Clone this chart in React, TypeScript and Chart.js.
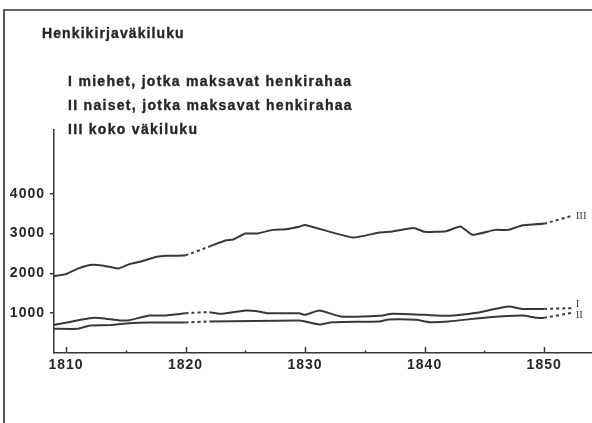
import React, { useEffect, useRef } from "react";
import { Chart, registerables } from "chart.js";

Chart.register(...registerables);

const TITLE = "Henkikirjaväkiluku";
const LEGEND_LINES = [
  "I miehet, jotka maksavat henkirahaa",
  "II naiset, jotka maksavat henkirahaa",
  "III koko väkiluku",
];
const SERIES_TAGS = ["I", "II", "III"];

const X_TICKS = [1810, 1820, 1830, 1840, 1850];
const X_MINOR_TICKS = [1815, 1825, 1835, 1845];
const Y_TICKS = [1000, 2000, 3000, 4000];
const DASH_FROM = [1820, 1850];

// Series I: miehet
const YEARS_I = [1809, 1812, 1813, 1814.5, 1815.3, 1817, 1818.4, 1820, 1822, 1823, 1825, 1826, 1826.8, 1829.5, 1830, 1831.2, 1833, 1836.2, 1837.3, 1840, 1842, 1844.3, 1847, 1848.2, 1850, 1852.3];
const VALUES_I = [708, 875, 875, 817, 825, 942, 942, 1000, 1025, 983, 1067, 1050, 1000, 1000, 958, 1067, 917, 933, 983, 958, 933, 1008, 1167, 1108, 1108, 1125];

// Series II: naiset
const YEARS_II = [1809, 1811, 1812, 1813.7, 1815.3, 1817, 1820, 1822, 1829.5, 1830, 1831.2, 1832.3, 1836.2, 1837, 1839.3, 1840.4, 1842, 1845.4, 1848.2, 1849.4, 1850, 1852.3];
const VALUES_II = [608, 608, 692, 700, 750, 767, 767, 792, 817, 792, 717, 775, 792, 842, 833, 775, 792, 900, 942, 883, 883, 1008];

// Series III: koko väkiluku
const YEARS_III = [1809, 1810, 1811, 1812, 1813, 1814.4, 1815.3, 1816.2, 1817.6, 1818.4, 1820, 1822, 1823.4, 1824, 1825, 1826, 1827.3, 1828.4, 1829.5, 1830, 1834, 1836.2, 1837.3, 1839.1, 1840, 1841.8, 1843, 1844, 1845.9, 1847, 1848.2, 1850, 1852.3];
const VALUES_III = [1930, 1980, 2120, 2210, 2200, 2125, 2232, 2290, 2415, 2440, 2457, 2675, 2832, 2850, 3000, 3000, 3092, 3108, 3170, 3216, 2900, 3025, 3050, 3142, 3042, 3060, 3175, 2967, 3092, 3092, 3208, 3250, 3442];

const INK = "#262626";
const LINE = "#383838";
const FONT = "'Liberation Sans', Arial, sans-serif";

const toPoints = (xs: number[], ys: number[]) => xs.map((x, i) => ({ x, y: ys[i] }));

const tagOffsets = [-4, 2, 0];

const decorPlugin = {
  id: "decor",
  beforeDraw(chart: any) {
    (chart.ctx as any).letterSpacing = "1px";
  },
  afterDraw(chart: any) {
    const ctx = chart.ctx;
    const xs = chart.scales.x;
    const axisY = chart.chartArea.bottom;
    ctx.save();
    ctx.strokeStyle = LINE;
    ctx.lineWidth = 1.5;
    X_TICKS.forEach((v) => {
      const px = Math.round(xs.getPixelForValue(v)) + 0.5;
      ctx.beginPath();
      ctx.moveTo(px, axisY);
      ctx.lineTo(px, axisY - 6);
      ctx.stroke();
    });
    X_MINOR_TICKS.forEach((v) => {
      const px = Math.round(xs.getPixelForValue(v)) + 0.5;
      ctx.beginPath();
      ctx.moveTo(px, axisY);
      ctx.lineTo(px, axisY - 2.5);
      ctx.stroke();
    });
    (ctx as any).letterSpacing = "0px";
    ctx.fillStyle = "#444";
    ctx.font = "11px 'Liberation Serif', serif";
    ctx.textBaseline = "middle";
    ctx.textAlign = "left";
    chart.data.datasets.forEach((ds: any, i: number) => {
      const meta = chart.getDatasetMeta(i);
      const last = meta.data[meta.data.length - 1];
      ctx.fillText(SERIES_TAGS[i], last.x + 4, last.y + tagOffsets[i]);
    });
    ctx.restore();
  },
};

export default function App() {
  const ref = useRef<HTMLCanvasElement | null>(null);

  useEffect(() => {
    if (!ref.current) return;
    const dashed = (ctx: any) =>
      DASH_FROM.includes(ctx.p0.parsed.x) ? [3, 3] : undefined;
    const mk = (xs: number[], ys: number[]) => ({
      data: toPoints(xs, ys),
      borderColor: LINE,
      borderWidth: 2,
      pointRadius: 0,
      tension: 0.15,
      fill: false,
      segment: { borderDash: dashed },
    });
    const chart = new Chart(ref.current, {
      type: "line",
      data: {
        datasets: [mk(YEARS_I, VALUES_I), mk(YEARS_II, VALUES_II), mk(YEARS_III, VALUES_III)],
      },
      options: {
        animation: false,
        responsive: false,
        devicePixelRatio: 1,
        layout: { padding: { top: 130, left: 0, right: 0, bottom: 0 } },
        plugins: { legend: { display: false }, tooltip: { enabled: false }, title: { display: false } },
        scales: {
          x: {
            type: "linear",
            min: 1809,
            max: 1854,
            afterBuildTicks: (s: any) => {
              s.ticks = X_TICKS.map((v) => ({ value: v }));
            },
            afterFit: (s: any) => {
              s.height = 70;
            },
            grid: { display: false },
            border: { display: true, color: LINE, width: 1.5 },
            ticks: {
              color: INK,
              padding: -4,
              maxRotation: 0,
              font: { family: FONT, size: 14, weight: "bold" },
              callback: (v: any) => String(v),
            },
          },
          y: {
            type: "linear",
            min: 0,
            max: 5600,
            afterBuildTicks: (s: any) => {
              s.ticks = Y_TICKS.map((v) => ({ value: v }));
            },
            afterFit: (s: any) => {
              s.width = 54;
            },
            grid: { display: true, drawOnChartArea: false, drawTicks: true, tickLength: 4, color: LINE, lineWidth: 1.5 },
            border: { display: true, color: LINE, width: 1.5 },
            ticks: {
              color: INK,
              padding: 5,
              font: { family: FONT, size: 14, weight: "bold" },
              callback: (v: any) => String(v),
            },
          },
        },
      },
      plugins: [decorPlugin],
    } as any);
    return () => chart.destroy();
  }, []);

  const textStyle: React.CSSProperties = {
    position: "absolute",
    fontFamily: FONT,
    fontWeight: "bold",
    fontSize: 14,
    lineHeight: "14px",
    color: INK,
    whiteSpace: "nowrap",
    margin: 0,
    WebkitTextStroke: "0.35px " + INK,
  } as React.CSSProperties;

  return (
    <div style={{ position: "fixed", left: 0, top: 0, width: 592, height: 423, background: "#fff", overflow: "hidden" }}>
      <div style={{ position: "absolute", left: 3, top: 9, width: 589, height: 414, borderLeft: "2px solid #555", borderTop: "2px solid #666" }} />
      <canvas ref={ref} width={592} height={423} style={{ position: "absolute", left: 0, top: 0, display: "block" }} />
      <div style={{ ...textStyle, left: 42, top: 26, letterSpacing: "1.1px" }}>{TITLE}</div>
      {LEGEND_LINES.map((t, i) => (
        <div key={i} style={{ ...textStyle, left: 68, top: 74 + i * 24.2, letterSpacing: "1.3px" }}>{t}</div>
      ))}
    </div>
  );
}
